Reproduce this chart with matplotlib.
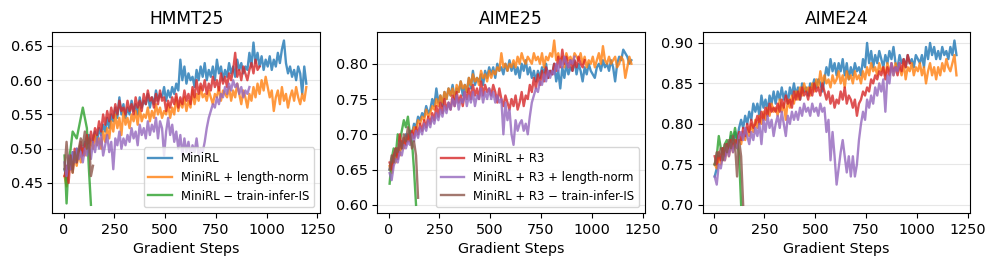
import numpy as np
import matplotlib.pyplot as plt

titles = ["HMMT25", "AIME25", "AIME24"]
labels = ["MiniRL", "MiniRL + length-norm", "MiniRL \u2212 train-infer-IS",
          "MiniRL + R3", "MiniRL + R3 + length-norm", "MiniRL + R3 \u2212 train-infer-IS"]

# ---------------- HMMT25 ----------------
hmmt_base = [
    0.470, 0.455, 0.480, 0.470, 0.495, 0.485, 0.500, 0.490, 0.505, 0.495,
    0.510, 0.500, 0.520, 0.505, 0.515, 0.525, 0.510, 0.530, 0.520, 0.535,
    0.525, 0.545, 0.530, 0.550, 0.540, 0.560, 0.545, 0.575, 0.550, 0.565,
    0.545, 0.560, 0.550, 0.570, 0.555, 0.565, 0.550, 0.575, 0.560, 0.570,
    0.565, 0.580, 0.560, 0.575, 0.565, 0.585, 0.570, 0.580, 0.575, 0.590,
    0.570, 0.585, 0.575, 0.590, 0.580, 0.595, 0.585, 0.630, 0.600, 0.620,
    0.595, 0.610, 0.600, 0.605, 0.590, 0.615, 0.600, 0.620, 0.605, 0.625,
    0.600, 0.615, 0.605, 0.620, 0.600, 0.630, 0.610, 0.620, 0.600, 0.615,
    0.605, 0.625, 0.610, 0.620, 0.605, 0.630, 0.615, 0.625, 0.610, 0.620,
    0.615, 0.640, 0.620, 0.655, 0.625, 0.640, 0.620, 0.635, 0.615, 0.630,
    0.620, 0.635, 0.615, 0.630, 0.620, 0.640, 0.625, 0.645, 0.658, 0.625,
    0.610, 0.620, 0.605, 0.615, 0.600, 0.620, 0.610, 0.580, 0.620, 0.595]
hmmt_lnorm = [
    0.460, 0.445, 0.470, 0.480, 0.465, 0.490, 0.475, 0.495, 0.480, 0.500,
    0.490, 0.505, 0.495, 0.510, 0.500, 0.520, 0.505, 0.515, 0.500, 0.525,
    0.510, 0.530, 0.515, 0.540, 0.525, 0.550, 0.530, 0.545, 0.520, 0.555,
    0.535, 0.545, 0.530, 0.550, 0.540, 0.555, 0.535, 0.560, 0.540, 0.550,
    0.545, 0.560, 0.540, 0.555, 0.545, 0.565, 0.550, 0.560, 0.545, 0.555,
    0.550, 0.565, 0.545, 0.560, 0.550, 0.575, 0.555, 0.570, 0.560, 0.575,
    0.555, 0.570, 0.560, 0.585, 0.565, 0.580, 0.570, 0.590, 0.575, 0.580,
    0.570, 0.585, 0.575, 0.565, 0.580, 0.575, 0.590, 0.570, 0.585, 0.580,
    0.575, 0.590, 0.570, 0.585, 0.575, 0.595, 0.580, 0.565, 0.585, 0.575,
    0.560, 0.580, 0.570, 0.590, 0.575, 0.595, 0.580, 0.600, 0.585, 0.605,
    0.590, 0.575, 0.585, 0.555, 0.575, 0.585, 0.565, 0.590, 0.570, 0.580,
    0.560, 0.575, 0.585, 0.570, 0.590, 0.575, 0.565, 0.580, 0.570, 0.590]
hmmt_noIS = [0.490, 0.420, 0.480, 0.500, 0.525, 0.520, 0.515, 0.530, 0.545,
             0.560, 0.545, 0.530, 0.470, 0.418]
hmmt_r3 = [
    0.460, 0.475, 0.450, 0.490, 0.470, 0.500, 0.480, 0.495, 0.510, 0.490,
    0.505, 0.520, 0.500, 0.525, 0.510, 0.530, 0.520, 0.540, 0.525, 0.550,
    0.535, 0.555, 0.540, 0.560, 0.545, 0.565, 0.550, 0.570, 0.555, 0.560,
    0.550, 0.570, 0.555, 0.565, 0.550, 0.575, 0.560, 0.570, 0.555, 0.580,
    0.565, 0.585, 0.570, 0.575, 0.560, 0.580, 0.565, 0.585, 0.570, 0.575,
    0.555, 0.570, 0.560, 0.575, 0.565, 0.580, 0.560, 0.575, 0.565, 0.585,
    0.570, 0.580, 0.565, 0.590, 0.575, 0.600, 0.580, 0.595, 0.585, 0.600,
    0.580, 0.595, 0.585, 0.605, 0.590, 0.600, 0.585, 0.610, 0.595, 0.605,
    0.590, 0.610, 0.600, 0.615, 0.640, 0.605, 0.615, 0.600, 0.620, 0.610,
    0.600, 0.615, 0.625, 0.610, 0.630, 0.615, 0.620]
hmmt_r3_lnorm = [
    0.480, 0.460, 0.490, 0.470, 0.495, 0.480, 0.500, 0.485, 0.495, 0.480,
    0.500, 0.490, 0.505, 0.485, 0.510, 0.495, 0.515, 0.500, 0.520, 0.490,
    0.505, 0.520, 0.495, 0.510, 0.470, 0.515, 0.505, 0.525, 0.500, 0.515,
    0.505, 0.520, 0.510, 0.530, 0.515, 0.525, 0.505, 0.535, 0.520, 0.530,
    0.515, 0.540, 0.520, 0.535, 0.525, 0.545, 0.515, 0.540, 0.530, 0.490,
    0.525, 0.545, 0.520, 0.535, 0.510, 0.525, 0.500, 0.520, 0.490, 0.515,
    0.495, 0.510, 0.490, 0.505, 0.495, 0.515, 0.490, 0.500, 0.495, 0.510,
    0.530, 0.545, 0.555, 0.565, 0.560, 0.575, 0.565, 0.580, 0.575, 0.590,
    0.580, 0.595, 0.585, 0.600, 0.590, 0.595, 0.580, 0.590, 0.575, 0.585,
    0.580, 0.590]
hmmt_r3_noIS = [0.470, 0.510, 0.470, 0.490, 0.465, 0.495, 0.480, 0.500, 0.515,
                0.505, 0.525, 0.500, 0.515, 0.460, 0.475]

# ---------------- AIME25 ----------------
aime25_base = [
    0.650, 0.660, 0.670, 0.665, 0.680, 0.675, 0.690, 0.685, 0.700, 0.690,
    0.705, 0.700, 0.715, 0.710, 0.725, 0.720, 0.730, 0.725, 0.740, 0.730,
    0.735, 0.750, 0.740, 0.765, 0.745, 0.755, 0.740, 0.760, 0.750, 0.765,
    0.755, 0.770, 0.750, 0.765, 0.760, 0.775, 0.755, 0.770, 0.760, 0.780,
    0.765, 0.790, 0.770, 0.780, 0.775, 0.785, 0.770, 0.790, 0.780, 0.795,
    0.785, 0.795, 0.780, 0.800, 0.790, 0.795, 0.785, 0.800, 0.790, 0.805,
    0.790, 0.800, 0.785, 0.795, 0.780, 0.800, 0.790, 0.805, 0.785, 0.795,
    0.780, 0.790, 0.775, 0.790, 0.780, 0.795, 0.785, 0.800, 0.780, 0.790,
    0.785, 0.800, 0.775, 0.790, 0.765, 0.795, 0.780, 0.800, 0.785, 0.795,
    0.790, 0.805, 0.785, 0.800, 0.790, 0.775, 0.795, 0.785, 0.800, 0.790,
    0.785, 0.780, 0.795, 0.800, 0.790, 0.805, 0.795, 0.800, 0.790, 0.805,
    0.795, 0.775, 0.800, 0.810, 0.805, 0.820, 0.815, 0.810, 0.800, 0.805]
aime25_lnorm = [
    0.655, 0.645, 0.670, 0.660, 0.680, 0.670, 0.690, 0.680, 0.695, 0.690,
    0.700, 0.695, 0.710, 0.705, 0.720, 0.715, 0.725, 0.720, 0.735, 0.725,
    0.730, 0.740, 0.735, 0.750, 0.740, 0.755, 0.745, 0.760, 0.750, 0.765,
    0.755, 0.765, 0.750, 0.770, 0.760, 0.775, 0.765, 0.770, 0.760, 0.780,
    0.770, 0.785, 0.775, 0.780, 0.770, 0.790, 0.780, 0.785, 0.775, 0.790,
    0.780, 0.790, 0.785, 0.795, 0.790, 0.815, 0.795, 0.800, 0.790, 0.800,
    0.795, 0.805, 0.795, 0.810, 0.800, 0.815, 0.805, 0.800, 0.810, 0.805,
    0.800, 0.815, 0.805, 0.810, 0.800, 0.815, 0.795, 0.810, 0.805, 0.815,
    0.810, 0.833, 0.805, 0.815, 0.800, 0.810, 0.795, 0.815, 0.805, 0.810,
    0.800, 0.815, 0.810, 0.805, 0.815, 0.800, 0.810, 0.795, 0.805, 0.800,
    0.810, 0.795, 0.805, 0.815, 0.800, 0.825, 0.805, 0.800, 0.810, 0.800,
    0.805, 0.810, 0.795, 0.800, 0.810, 0.805, 0.780, 0.795, 0.810, 0.800]
aime25_noIS = [0.630, 0.665, 0.680, 0.670, 0.700, 0.690, 0.705, 0.720, 0.710,
               0.725, 0.700, 0.690, 0.650, 0.600]
aime25_r3 = [
    0.660, 0.650, 0.670, 0.680, 0.665, 0.700, 0.680, 0.695, 0.685, 0.700,
    0.690, 0.705, 0.695, 0.710, 0.700, 0.715, 0.705, 0.720, 0.710, 0.725,
    0.715, 0.730, 0.720, 0.740, 0.725, 0.745, 0.730, 0.750, 0.735, 0.745,
    0.735, 0.755, 0.740, 0.760, 0.745, 0.755, 0.740, 0.760, 0.750, 0.765,
    0.750, 0.770, 0.755, 0.765, 0.750, 0.775, 0.755, 0.770, 0.760, 0.765,
    0.755, 0.770, 0.760, 0.745, 0.765, 0.750, 0.740, 0.755, 0.745, 0.735,
    0.750, 0.740, 0.755, 0.735, 0.745, 0.760, 0.740, 0.755, 0.750, 0.770,
    0.760, 0.780, 0.765, 0.785, 0.770, 0.790, 0.775, 0.795, 0.780, 0.790,
    0.785, 0.800, 0.790, 0.810, 0.795, 0.820, 0.800, 0.810, 0.795, 0.805,
    0.790, 0.805, 0.795, 0.810, 0.800, 0.795, 0.805]
aime25_r3_lnorm = [
    0.645, 0.635, 0.655, 0.665, 0.660, 0.675, 0.670, 0.685, 0.680, 0.690,
    0.685, 0.700, 0.690, 0.705, 0.695, 0.710, 0.700, 0.715, 0.705, 0.720,
    0.710, 0.725, 0.715, 0.730, 0.720, 0.735, 0.725, 0.740, 0.730, 0.745,
    0.735, 0.750, 0.740, 0.755, 0.735, 0.750, 0.745, 0.760, 0.740, 0.755,
    0.745, 0.760, 0.740, 0.755, 0.750, 0.765, 0.745, 0.760, 0.750, 0.765,
    0.750, 0.760, 0.745, 0.755, 0.745, 0.750, 0.700, 0.745, 0.720, 0.735,
    0.700, 0.685, 0.720, 0.705, 0.715, 0.720, 0.705, 0.715, 0.700, 0.725,
    0.745, 0.755, 0.765, 0.760, 0.775, 0.770, 0.785, 0.775, 0.790, 0.780,
    0.790, 0.785, 0.800, 0.790, 0.805, 0.795, 0.810, 0.800, 0.795, 0.805,
    0.800, 0.810]
aime25_r3_noIS = [0.650, 0.670, 0.660, 0.680, 0.675, 0.690, 0.680, 0.700, 0.690,
                  0.710, 0.700, 0.680, 0.690, 0.670, 0.610]

# ---------------- AIME24 ----------------
aime24_base = [
    0.735, 0.745, 0.760, 0.755, 0.770, 0.760, 0.775, 0.770, 0.785, 0.775,
    0.790, 0.780, 0.795, 0.805, 0.795, 0.810, 0.800, 0.815, 0.805, 0.825,
    0.815, 0.825, 0.810, 0.835, 0.820, 0.830, 0.815, 0.835, 0.825, 0.840,
    0.825, 0.840, 0.830, 0.845, 0.830, 0.840, 0.825, 0.845, 0.835, 0.850,
    0.835, 0.845, 0.830, 0.850, 0.840, 0.845, 0.835, 0.850, 0.845, 0.855,
    0.845, 0.855, 0.850, 0.840, 0.855, 0.870, 0.860, 0.880, 0.865, 0.875,
    0.860, 0.875, 0.865, 0.880, 0.860, 0.875, 0.855, 0.870, 0.860, 0.875,
    0.865, 0.870, 0.860, 0.880, 0.870, 0.900, 0.875, 0.890, 0.870, 0.885,
    0.875, 0.890, 0.880, 0.870, 0.885, 0.875, 0.890, 0.880, 0.895, 0.875,
    0.870, 0.885, 0.875, 0.880, 0.870, 0.885, 0.875, 0.880, 0.870, 0.885,
    0.880, 0.875, 0.885, 0.870, 0.895, 0.880, 0.900, 0.885, 0.895, 0.880,
    0.890, 0.880, 0.895, 0.885, 0.890, 0.880, 0.895, 0.885, 0.903, 0.885]
aime24_lnorm = [
    0.750, 0.745, 0.760, 0.750, 0.765, 0.755, 0.770, 0.760, 0.775, 0.765,
    0.780, 0.770, 0.785, 0.775, 0.790, 0.780, 0.795, 0.785, 0.800, 0.790,
    0.805, 0.795, 0.810, 0.800, 0.815, 0.805, 0.820, 0.810, 0.825, 0.815,
    0.820, 0.810, 0.830, 0.815, 0.825, 0.805, 0.830, 0.820, 0.835, 0.825,
    0.840, 0.830, 0.845, 0.835, 0.850, 0.840, 0.845, 0.835, 0.850, 0.840,
    0.855, 0.845, 0.865, 0.850, 0.860, 0.850, 0.855, 0.845, 0.860, 0.850,
    0.855, 0.865, 0.850, 0.860, 0.845, 0.865, 0.855, 0.860, 0.850, 0.865,
    0.855, 0.860, 0.850, 0.865, 0.855, 0.870, 0.860, 0.875, 0.865, 0.870,
    0.860, 0.875, 0.865, 0.870, 0.860, 0.875, 0.865, 0.870, 0.860, 0.875,
    0.865, 0.870, 0.860, 0.875, 0.855, 0.870, 0.865, 0.875, 0.860, 0.870,
    0.865, 0.875, 0.860, 0.870, 0.850, 0.865, 0.875, 0.860, 0.870, 0.855,
    0.870, 0.860, 0.875, 0.865, 0.880, 0.870, 0.865, 0.875, 0.885, 0.860]
aime24_noIS = [0.750, 0.760, 0.785, 0.770, 0.765, 0.775, 0.780, 0.770, 0.790,
               0.780, 0.795, 0.780, 0.760, 0.700]
aime24_r3 = [
    0.760, 0.750, 0.765, 0.755, 0.770, 0.760, 0.775, 0.765, 0.780, 0.770,
    0.780, 0.775, 0.790, 0.780, 0.795, 0.785, 0.800, 0.790, 0.805, 0.795,
    0.800, 0.810, 0.800, 0.815, 0.805, 0.820, 0.810, 0.825, 0.815, 0.820,
    0.815, 0.825, 0.815, 0.830, 0.820, 0.835, 0.825, 0.830, 0.820, 0.840,
    0.830, 0.840, 0.830, 0.845, 0.835, 0.840, 0.830, 0.845, 0.835, 0.850,
    0.840, 0.845, 0.835, 0.850, 0.840, 0.830, 0.840, 0.825, 0.835, 0.820,
    0.830, 0.825, 0.840, 0.830, 0.845, 0.825, 0.835, 0.830, 0.820, 0.830,
    0.810, 0.825, 0.830, 0.840, 0.835, 0.845, 0.840, 0.855, 0.850, 0.860,
    0.855, 0.865, 0.860, 0.870, 0.855, 0.870, 0.860, 0.875, 0.865, 0.870,
    0.860, 0.875, 0.865, 0.880, 0.870, 0.885, 0.875]
aime24_r3_lnorm = [
    0.735, 0.725, 0.750, 0.745, 0.760, 0.755, 0.770, 0.760, 0.775, 0.765,
    0.775, 0.770, 0.785, 0.790, 0.780, 0.795, 0.785, 0.775, 0.790, 0.780,
    0.795, 0.785, 0.800, 0.775, 0.805, 0.790, 0.810, 0.795, 0.805, 0.785,
    0.800, 0.810, 0.795, 0.815, 0.800, 0.785, 0.810, 0.800, 0.815, 0.805,
    0.815, 0.805, 0.820, 0.810, 0.825, 0.815, 0.820, 0.810, 0.825, 0.815,
    0.820, 0.810, 0.825, 0.815, 0.820, 0.790, 0.805, 0.755, 0.790, 0.760,
    0.725, 0.745, 0.765, 0.780, 0.760, 0.740, 0.760, 0.735, 0.760, 0.735,
    0.750, 0.780, 0.800, 0.815, 0.805, 0.830, 0.820, 0.835, 0.825, 0.845,
    0.835, 0.850, 0.840, 0.855, 0.815, 0.860, 0.850, 0.875, 0.860, 0.870,
    0.865, 0.875]
aime24_r3_noIS = [0.750, 0.765, 0.760, 0.770, 0.755, 0.775, 0.765, 0.780, 0.770,
                  0.785, 0.775, 0.735, 0.780, 0.760, 0.700]

panels = [
    [hmmt_base, hmmt_lnorm, hmmt_noIS, hmmt_r3, hmmt_r3_lnorm, hmmt_r3_noIS],
    [aime25_base, aime25_lnorm, aime25_noIS, aime25_r3, aime25_r3_lnorm, aime25_r3_noIS],
    [aime24_base, aime24_lnorm, aime24_noIS, aime24_r3, aime24_r3_lnorm, aime24_r3_noIS],
]
colors = ["tab:blue", "tab:orange", "tab:green", "tab:red", "tab:purple", "tab:brown"]

fig, axes = plt.subplots(1, 3, figsize=(9.97, 2.69), dpi=100)
fig.subplots_adjust(left=0.0525, right=0.973, bottom=0.208, top=0.88, wspace=0.215)

for ax, title, series in zip(axes, titles, panels):
    lines = []
    for vals, c, lab in zip(series, colors, labels):
        steps = 5 + 10 * np.arange(len(vals))
        ln, = ax.plot(steps, vals, color=c, lw=1.7, alpha=0.8, label=lab)
        lines.append(ln)
    ax.set_title(title, fontsize=12.3)
    ax.set_xlabel("Gradient Steps", fontsize=10.3)
    ax.set_xlim(-55, 1262)
    ax.set_xticks([0, 250, 500, 750, 1000, 1250])
    ax.tick_params(labelsize=10.4)
    ax.grid(True, axis="y", alpha=0.3)
    ax.set_axisbelow(True)
    if title == "HMMT25":
        ax.legend(handles=lines[:3], loc="lower right", fontsize=8.4)
    elif title == "AIME25":
        ax.legend(handles=lines[3:], loc="lower right", fontsize=8.4)

fig.savefig("out.png", dpi=100)
plt.close()
